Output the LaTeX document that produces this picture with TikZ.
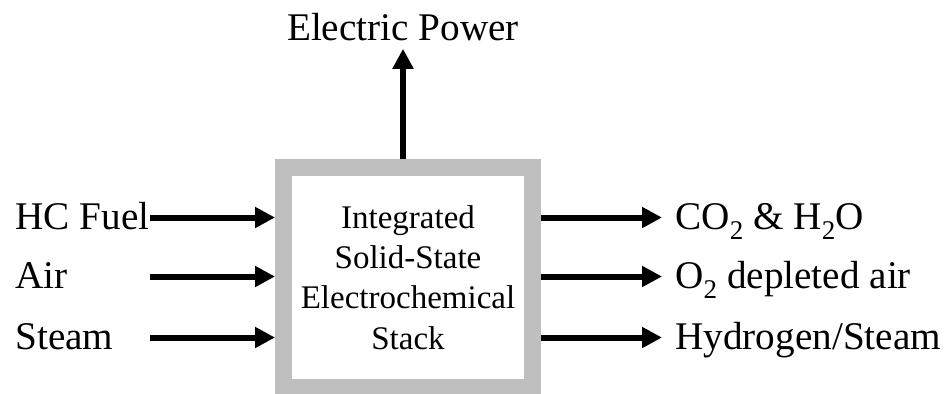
\documentclass[tikz,border=0pt]{standalone}
\usepackage{fontspec}
\setmainfont{Liberation Serif}
\usetikzlibrary{arrows.meta,positioning}
\newcommand{\chemsub}[1]{\raisebox{-5pt}{\fontsize{13.5}{13.5}\selectfont #1}}

\begin{document}
\begin{tikzpicture}[x=0.5pt, y=0.5pt,
  lbl/.style={inner sep=0pt, font=\fontsize{19.6}{23}\selectfont},
  stackbox/.style={draw=gray!50, line width=8.5pt, minimum width=124.5pt, minimum height=110pt, inner sep=0pt, align=center, font=\fontsize{16.5}{20.2}\selectfont},
  arr/.style={-{Triangle[length=10pt, width=10pt]}, line width=3pt}]
\useasboundingbox (0,0) rectangle (949,393);
\node[stackbox] (stack) at (408,115.5) {Integrated\\Solid-State\\Electrochemical\\Stack};
\node[lbl, anchor=base] (power) at (403,353) {Electric Power};
\node[lbl, anchor=base west] (fuel) at (15,164) {HC Fuel};
\node[lbl, anchor=base west] (air) at (15,105) {Air};
\node[lbl, anchor=base west] (steam) at (15,44) {Steam};
\node[lbl, anchor=base west] (exhaust) at (675,164) {CO\chemsub{2} \& H\chemsub{2}O};
\node[lbl, anchor=base west] (depleted) at (675,105) {O\chemsub{2} depleted air};
\node[lbl, anchor=base west] (hydrogen) at (675,44) {Hydrogen/Steam};
\draw[arr] (stack.north -| power.south) -- ([yshift=-4pt]power.south);
\draw[arr] ([yshift=5.75pt]fuel.base east) -- ([yshift=5.75pt]fuel.base east -| stack.west);
\draw[arr] ([yshift=5.75pt]air.base -| fuel.east) -- ([yshift=5.75pt]air.base -| stack.west);
\draw[arr] ([yshift=5.75pt]steam.base -| fuel.east) -- ([yshift=5.75pt]steam.base -| stack.west);
\draw[arr] ([yshift=5.75pt]exhaust.base west -| stack.east) -- ([xshift=-6.5pt,yshift=5.75pt]exhaust.base west);
\draw[arr] ([yshift=5.75pt]depleted.base west -| stack.east) -- ([xshift=-6.5pt,yshift=5.75pt]depleted.base west);
\draw[arr] ([yshift=5.75pt]hydrogen.base west -| stack.east) -- ([xshift=-6.5pt,yshift=5.75pt]hydrogen.base west);
\end{tikzpicture}
\end{document}
